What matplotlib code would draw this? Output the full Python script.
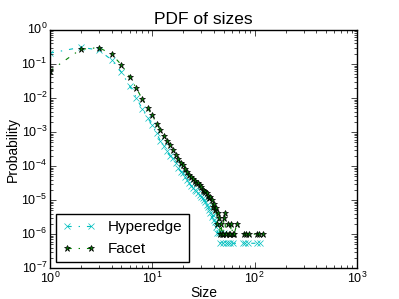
import matplotlib
matplotlib.use("Agg")
import matplotlib.pyplot as plt

plt.style.use('classic')
plt.rcParams['font.family'] = ['Liberation Sans', 'DejaVu Sans']
plt.rcParams['mathtext.fontset'] = 'custom'
plt.rcParams['mathtext.rm'] = 'Liberation Sans'

# hyperedge size distribution (size, probability)
hyper_size = [1, 2, 3, 4, 5, 6, 7, 8, 9, 10, 11, 12, 13, 14, 15, 16, 17, 18, 19, 20,
              21, 22, 23, 24, 25, 26, 27, 28, 29, 30, 31, 32, 33, 34, 35, 36, 37, 38, 39, 40,
              41, 42, 43, 44, 45, 46, 47, 49, 50, 52, 55, 58, 62, 77, 81, 86, 106, 113]
hyper_prob = [2.07e-1, 3.09e-1, 2.57e-1, 1.32e-1, 5.69e-2, 2.29e-2, 1.02e-2, 4.68e-3, 2.63e-3, 1.62e-3,
              9.12e-4, 5.50e-4, 3.98e-4, 2.69e-4, 1.95e-4, 1.70e-4, 1.20e-4, 8.91e-5, 6.92e-5, 6.17e-5,
              4.68e-5, 3.98e-5, 3.09e-5, 2.63e-5, 2.34e-5, 1.95e-5, 1.82e-5, 1.58e-5, 1.41e-5, 1.26e-5,
              1.12e-5, 1.00e-5, 8.91e-6, 7.08e-6, 6.31e-6, 5.13e-6, 4.27e-6, 3.24e-6, 3.55e-6, 2.69e-6,
              2.29e-6, 1.62e-6, 1.07e-6, 2.04e-6, 1.07e-6, 5.4e-7, 1.07e-6, 5.4e-7, 1.07e-6, 5.4e-7,
              5.4e-7, 5.4e-7, 5.4e-7, 5.4e-7, 5.4e-7, 5.4e-7, 5.4e-7, 5.4e-7]

# facet size distribution (size, probability)
facet_size = [1, 2, 3, 4, 5, 6, 7, 8, 9, 10, 11, 12, 13, 14, 15, 16, 17, 18, 19, 20,
              21, 22, 23, 24, 25, 26, 27, 28, 29, 30, 31, 32, 33, 34, 35, 36, 37, 38, 39, 40,
              41, 42, 43, 44, 45, 46, 47, 48, 49, 50, 51, 52, 53, 55, 56, 58, 59, 61, 63, 67,
              78, 82, 88, 105, 111, 120]
facet_prob = [6.2e-2, 2.69e-1, 3.02e-1, 1.97e-1, 9.33e-2, 4.27e-2, 1.91e-2, 9.33e-3, 5.01e-3, 3.09e-3,
              1.78e-3, 1.12e-3, 7.76e-4, 5.50e-4, 4.17e-4, 2.95e-4, 2.09e-4, 1.58e-4, 1.26e-4, 1.10e-4,
              8.32e-5, 6.76e-5, 5.62e-5, 4.90e-5, 4.17e-5, 3.72e-5, 3.24e-5, 3.09e-5, 2.75e-5, 2.40e-5,
              2.04e-5, 1.91e-5, 1.78e-5, 1.62e-5, 1.32e-5, 1.12e-5, 1.20e-5, 1.00e-5, 6.31e-6, 7.94e-6,
              5.01e-6, 5.75e-6, 2.0e-6, 4.07e-6, 3.0e-6, 1.0e-6, 2.0e-6, 1.0e-6, 1.0e-6, 3.0e-6,
              4.07e-6, 1.0e-6, 1.0e-6, 2.0e-6, 1.0e-6, 1.0e-6, 2.0e-6, 1.0e-6, 1.0e-6, 2.0e-6,
              1.0e-6, 1.0e-6, 1.0e-6, 1.0e-6, 1.0e-6, 1.0e-6]

fig = plt.figure(figsize=(3.99, 2.99), dpi=100)
fig.subplots_adjust(left=0.125, right=0.895, top=0.9, bottom=0.103)
ax = fig.add_subplot(111)
ax.loglog(hyper_size, hyper_prob, 'cx-.', ms=5, mew=0.5, lw=0.8, label='Hyperedge')
ax.loglog(facet_size, facet_prob, 'g*-.', ms=5, mew=0.5, lw=0.8, label='Facet')
ax.set_xlim(1, 1e3)
ax.set_ylim(1e-7, 1)
ax.set_title('PDF of sizes', fontsize=12.5, pad=4)
ax.set_xlabel('Size', fontsize=10, labelpad=0)
ax.set_ylabel('Probability', fontsize=10, labelpad=1)
ax.tick_params(labelsize=9, pad=2)
ax.legend(loc='lower left', fontsize=11, borderaxespad=0.4, handlelength=2.2)
fig.savefig('out.png', dpi=100)
